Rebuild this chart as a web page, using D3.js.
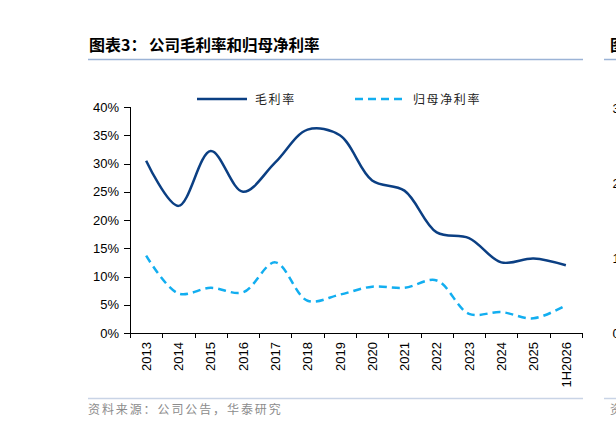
<html>
<head>
<meta charset="utf-8">
<script src="https://d3js.org/d3.v7.min.js"></script>
<style>
    body { margin: 0; background: #fff; }
    svg { display: block; }
    .axis text { font-family: "Liberation Sans", Arial, sans-serif; font-size: 13px; fill: #000; }
    .axis path, .axis line { stroke: #000; shape-rendering: crispEdges; }
</style>
</head>
<body>
<svg id="chart" width="616" height="429"></svg>

<script>
    // chart data (%)
    const years = ["2013", "2014", "2015", "2016", "2017", "2018", "2019",
                   "2020", "2021", "2022", "2023", "2024", "2025", "1H2026"];
    const grossMargin = [30.5, 22.5, 32.2, 25.0, 30.2, 36.0, 35.0, 27.0, 25.2, 17.8, 16.8, 12.5, 13.2, 12.0];
    const netMargin = [13.7, 7.0, 8.0, 7.2, 12.5, 5.7, 6.8, 8.2, 8.0, 9.3, 3.4, 3.7, 2.6, 4.9];
    const yTicks = [0, 5, 10, 15, 20, 25, 30, 35, 40];
    const seriesNames = ["毛利率", "归母净利率"];

    const svg = d3.select("#chart");
    const cjk = "'Noto Sans CJK SC', 'Noto Sans', sans-serif";

    // title + rule
    svg.append("text")
        .attr("x", 89).attr("y", 51)
        .style("font-family", cjk).style("font-size", "16px").style("font-weight", "bold")
        .text("图表3：");
    svg.append("text")
        .attr("x", 149).attr("y", 51)
        .style("font-family", cjk).style("font-size", "15.5px").style("font-weight", "bold")
        .text("公司毛利率和归母净利率");
    svg.append("line")
        .attr("x1", 88).attr("x2", 583).attr("y1", 59.5).attr("y2", 59.5)
        .attr("stroke", "#9bb3d6").attr("stroke-width", 1.5);

    // scales
    const x = d3.scaleBand().domain(years).range([130, 582]);
    const y = d3.scaleLinear().domain([0, 40]).range([333, 107]);

    // y axis
    svg.append("g")
        .attr("class", "axis")
        .attr("transform", "translate(130,0)")
        .call(d3.axisLeft(y).tickValues(yTicks).tickSize(6).tickPadding(5)
              .tickFormat(d => d + "%"));

    // x axis: ticks on band edges, labels rotated
    const xAxis = svg.append("g")
        .attr("class", "axis")
        .attr("transform", "translate(0,333)");
    xAxis.append("line")
        .attr("x1", 130).attr("x2", 582).attr("y1", 0.5).attr("y2", 0.5)
        .attr("stroke", "#000");
    xAxis.selectAll(".edge")
        .data(d3.range(years.length + 1))
        .join("line")
        .attr("class", "edge")
        .attr("x1", i => Math.round(x.range()[0] + i * x.step()) + 0.5)
        .attr("x2", i => Math.round(x.range()[0] + i * x.step()) + 0.5)
        .attr("y1", 0).attr("y2", 5)
        .attr("stroke", "#000");
    xAxis.selectAll(".lbl")
        .data(years)
        .join("text")
        .attr("class", "lbl")
        .attr("text-anchor", "end")
        .attr("dy", "0.36em")
        .attr("transform", d => `translate(${x(d) + x.bandwidth() / 2},9) rotate(-90)`)
        .text(d => d);

    // lines
    const line = d3.line()
        .x((d, i) => x(years[i]) + x.bandwidth() / 2)
        .y(d => y(d))
        .curve(d3.curveCatmullRom.alpha(0.5));

    svg.append("path")
        .datum(grossMargin)
        .attr("d", line)
        .attr("fill", "none")
        .attr("stroke", "#0b3f83")
        .attr("stroke-width", 2.5);

    svg.append("path")
        .datum(netMargin)
        .attr("d", line)
        .attr("fill", "none")
        .attr("stroke", "#12aef0")
        .attr("stroke-width", 2.5)
        .attr("stroke-dasharray", "8,5");

    // legend
    const legend = [
        {name: seriesNames[0], x: 197, color: "#0b3f83", dash: null},
        {name: seriesNames[1], x: 355, color: "#12aef0", dash: "8,5"}
    ];
    const lg = svg.append("g").selectAll("g").data(legend).join("g");
    lg.append("line")
        .attr("x1", d => d.x).attr("x2", d => d.x + 50)
        .attr("y1", 99).attr("y2", 99)
        .attr("stroke", d => d.color).attr("stroke-width", 2.5)
        .attr("stroke-dasharray", d => d.dash);
    lg.append("text")
        .attr("x", d => d.x + 58).attr("y", 103.5)
        .style("font-family", cjk).style("font-size", "12px")
        .style("letter-spacing", "1.6px").style("fill", "#222")
        .text(d => d.name);

    // source
    svg.append("line")
        .attr("x1", 88).attr("x2", 583).attr("y1", 398.5).attr("y2", 398.5)
        .attr("stroke", "#c9d4e6").attr("stroke-width", 1.5);
    svg.append("text")
        .attr("x", 88).attr("y", 414)
        .style("font-family", cjk).style("font-size", "12px")
        .style("letter-spacing", "1.9px").style("fill", "#8c8c8c")
        .text("资料来源：公司公告，华泰研究");

    // edge of the neighbouring chart, cut off by the window as in the reference
    svg.append("text")
        .attr("x", 610).attr("y", 51)
        .style("font-family", cjk).style("font-size", "16px").style("font-weight", "bold")
        .text("图表4");
    svg.append("line")
        .attr("x1", 604).attr("x2", 616).attr("y1", 59.5).attr("y2", 59.5)
        .attr("stroke", "#9bb3d6").attr("stroke-width", 1.5);
    svg.append("line")
        .attr("x1", 604).attr("x2", 616).attr("y1", 398.5).attr("y2", 398.5)
        .attr("stroke", "#c9d4e6").attr("stroke-width", 1.5);
    svg.append("text")
        .attr("x", 610).attr("y", 414)
        .style("font-family", cjk).style("font-size", "12px").style("fill", "#8c8c8c")
        .text("资");
    svg.selectAll(".frag")
        .data([[108, "3"], [183, "2"], [258, "1"], [333, "0"]])
        .join("text")
        .attr("class", "frag")
        .attr("x", 612.5).attr("y", d => d[0] + 4.5)
        .style("font-family", "'Liberation Sans', Arial, sans-serif").style("font-size", "13px")
        .text(d => d[1]);
</script>
</body>
</html>
